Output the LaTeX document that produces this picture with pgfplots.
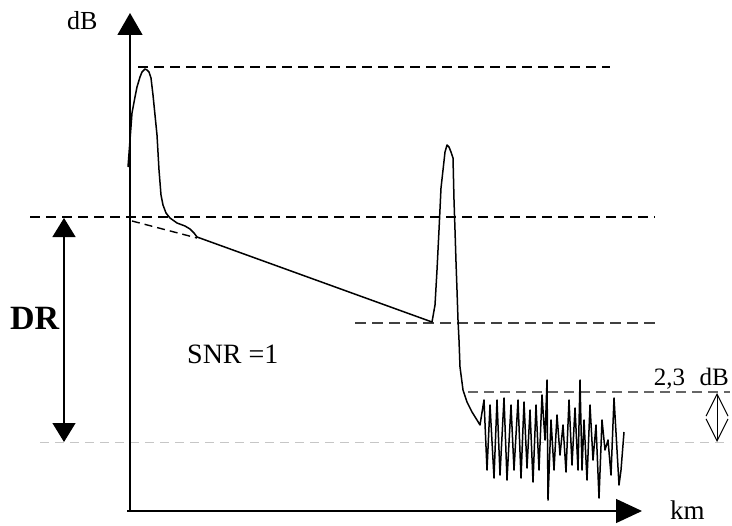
\documentclass[border=0pt]{standalone}
\usepackage{pgfplots}
\pgfplotsset{compat=1.18}
\usepackage{fontspec}
\setmainfont{Liberation Serif}
\usetikzlibrary{arrows.meta}
\begin{document}
\begin{tikzpicture}
\begin{axis}[
  scale only axis, width=732bp, height=526bp,
  xmin=0, xmax=732, ymin=0, ymax=526, y dir=reverse,
  hide axis, clip=false,
]
% invisible frame
\addplot[draw=none] coordinates {(0,0) (732,526)};
% dashed reference lines
\addplot[black, line width=1.8bp, dash pattern=on 10bp off 6bp] coordinates {(138,67) (610,67)};
\addplot[black, line width=1.8bp, dash pattern=on 10bp off 6bp] coordinates {(30,217) (655,217)};
\addplot[gray!50!black, line width=1.9bp, dash pattern=on 11bp off 6bp] coordinates {(355,323) (655,323)};
\addplot[gray!80!black, line width=1.8bp, dash pattern=on 10bp off 6bp] coordinates {(468,392) (730,392)};
\addplot[gray!45, line width=1bp, dash pattern=on 9bp off 6bp] coordinates {(40,442) (730,442)};
% extrapolation of the slope
\addplot[black, line width=1.4bp, dash pattern=on 8bp off 5bp] coordinates {(132,221) (197,238)};
% axes
\addplot[black, line width=1.3bp, -{Triangle[width=25bp,length=22bp]}] coordinates {(130,511) (130,13)};
\addplot[black, line width=1.3bp, -{Triangle[width=24bp,length=26bp]}] coordinates {(127,511) (642,511)};
% DR arrow
\addplot[black, line width=1.3bp, {Triangle[width=23bp,length=19bp]}-{Triangle[width=23bp,length=19bp]}] coordinates {(64,218) (64,442)};
% 2,3 dB arrow
\addplot[black, line width=1bp, {Straight Barb[width=22bp,length=22bp]}-{Straight Barb[width=22bp,length=22bp]}] coordinates {(717,393) (717,442)};
% trace
\addplot[black, line width=1.5bp, line join=round] coordinates {
(128,167)(130,140)(132,113)(135,97)(137,87)(140,77)(142,72)(145,69)(147,70)(149,72)(151,78)(153,95)(155,115)(157,135)(159,170)(161,195)(163,205)(166,213)(170,218)(177,223)(185,226)(190,229)(194,233)(197,237)
(432,322)
(435,305)(437,270)(439,230)(441,188)(443,170)(445,152)(447,145)(449,147)(451,152)(453,158)(454,200)(455,230)(456,262)(457,290)(458,320)(459,340)(460,367)(463,390)(467,402)(472,412)(477,420)(480,425)
(484,400)(487,470)(490,405)(494,478)(497,400)(500,475)(504,398)(507,480)(511,405)(514,470)(518,400)(521,478)(524,402)(527,468)(530,410)(533,482)(536,405)(539,470)(542,395)(545,440)(547,380)(548,500)(551,420)(554,470)(557,415)(560,455)(563,425)(566,472)(569,400)(572,465)(575,408)(578,470)(580,380)(582,470)(584,420)(587,480)(590,405)(593,460)(596,425)(599,498)(602,420)(605,450)(608,440)(611,475)(614,398)(617,450)(619,485)(621,470)(624,432)
};
% texts
\node[anchor=base west, font=\fontsize{26bp}{28bp}\selectfont, inner sep=0pt] at (axis cs:67,30) {dB};
\node[anchor=base west, font=\fontsize{27bp}{30bp}\selectfont, inner sep=0pt] at (axis cs:670,519) {km};
\node[anchor=base west, font=\fontsize{28bp}{30bp}\selectfont, inner sep=0pt] at (axis cs:187,363) {SNR =1};
\node[anchor=base west, font=\fontsize{34bp}{36bp}\selectfont\bfseries, inner sep=0pt] at (axis cs:10,329) {DR};
\node[anchor=base east, font=\fontsize{25bp}{28bp}\selectfont, inner sep=0pt] at (axis cs:729,385) {2,3\,\, dB};
\end{axis}
\end{tikzpicture}
\end{document}
